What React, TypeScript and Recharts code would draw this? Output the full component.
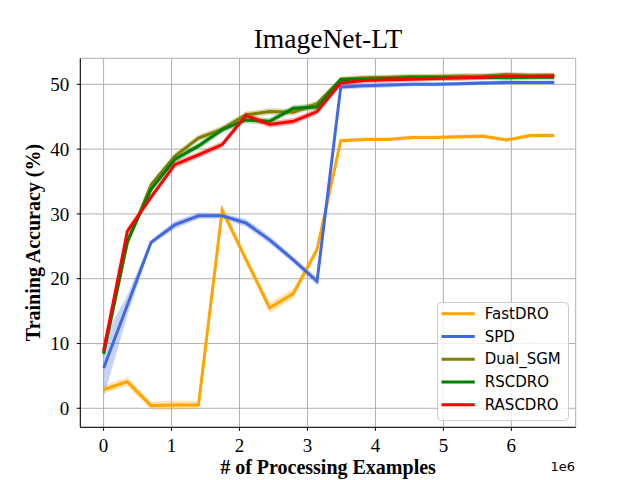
import { ComposedChart, Line, Area, XAxis, YAxis, CartesianGrid } from "recharts";

// processing examples, in units of 1e6
const steps = [
  0, 0.349, 0.698, 1.047, 1.396, 1.745, 2.094, 2.443, 2.792, 3.141,
  3.49, 3.839, 4.188, 4.537, 4.886, 5.235, 5.584, 5.933, 6.282, 6.631,
];

const fastDRO = [2.9, 4.1, 0.4, 0.5, 0.5, 30.6, 23.0, 15.5, 17.7, 24.5, 41.3, 41.5, 41.5, 41.8, 41.8, 41.9, 42.0, 41.4, 42.1, 42.1];
const spd = [6.2, 15.9, 25.6, 28.3, 29.7, 29.7, 28.6, 26.0, 22.9, 19.6, 49.6, 49.8, 49.9, 50.0, 50.0, 50.1, 50.2, 50.3, 50.3, 50.3];
const dualSGM = [8.5, 25.5, 34.5, 38.9, 41.7, 43.1, 45.3, 45.8, 45.7, 47.0, 50.8, 51.0, 51.1, 51.2, 51.2, 51.3, 51.3, 51.5, 51.4, 51.4];
const rscdro = [8.4, 25.8, 33.8, 38.4, 40.5, 43.0, 44.5, 44.3, 46.3, 46.5, 50.7, 50.8, 50.9, 51.0, 51.0, 51.0, 51.1, 51.0, 51.1, 51.1];
const rascdro = [8.9, 27.3, 32.6, 37.6, 39.1, 40.7, 45.2, 43.8, 44.3, 45.8, 50.2, 50.6, 50.7, 50.8, 50.9, 51.0, 51.1, 51.3, 51.2, 51.3];

// std of the shaded bands
const fastStd = [0.6, 0.7, 0.6, 0.7, 0.6, 0.8, 0.6, 0.8, 0.8, 0.6, 0.3, 0.3, 0.3, 0.3, 0.3, 0.3, 0.3, 0.3, 0.3, 0.3];
const spdStd = [4.5, 1.6, 0.4, 0.6, 0.5, 0.4, 0.6, 0.6, 0.5, 0.6, 0.4, 0.4, 0.4, 0.3, 0.3, 0.3, 0.3, 0.3, 0.3, 0.3];
const dualStd = [0.6, 0.6, 0.5, 0.5, 0.5, 0.5, 0.5, 0.5, 0.5, 0.5, 0.4, 0.4, 0.4, 0.4, 0.4, 0.4, 0.4, 0.4, 0.4, 0.4];
const rscStd = [0.6, 0.6, 0.5, 0.5, 0.5, 0.5, 0.5, 0.5, 0.5, 0.5, 0.4, 0.4, 0.4, 0.4, 0.4, 0.4, 0.4, 0.4, 0.4, 0.4];
const rascStd = [0.6, 0.6, 0.5, 0.5, 0.5, 0.5, 0.5, 0.5, 0.5, 0.5, 0.4, 0.4, 0.4, 0.4, 0.4, 0.4, 0.4, 0.4, 0.4, 0.4];

const xTicks = [0, 1, 2, 3, 4, 5, 6];
const yTicks = [0, 10, 20, 30, 40, 50];

const series = [
  { key: "fast", name: "FastDRO", color: "#FFA500", values: fastDRO, std: fastStd },
  { key: "spd", name: "SPD", color: "#4169E1", values: spd, std: spdStd },
  { key: "dual", name: "Dual_SGM", color: "#808000", values: dualSGM, std: dualStd },
  { key: "rsc", name: "RSCDRO", color: "#008000", values: rscdro, std: rscStd },
  { key: "rasc", name: "RASCDRO", color: "#FF0000", values: rascdro, std: rascStd },
];

const data = steps.map((x, i) => {
  const row: any = { x };
  series.forEach((s) => {
    row[s.key] = s.values[i];
    row[s.key + "Band"] = [s.values[i] - s.std[i], s.values[i] + s.std[i]];
  });
  return row;
});

const serif = "'Liberation Serif', 'Times New Roman', serif";
const sans = "'DejaVu Sans', sans-serif";

const Legend = () => (
  <svg
    width={132}
    height={119}
    style={{ position: "absolute", left: 436.5, top: 301.5 }}
  >
    <rect x={0.5} y={0.5} width={131} height={118} rx={4} fill="rgba(255,255,255,0.8)" stroke="#cccccc" />
    {series.map((s, i) => {
      const cy = 11.8 + i * 22.75;
      return (
        <g key={s.key}>
          <line x1={4.5} x2={37.8} y1={cy} y2={cy} stroke={s.color} strokeWidth={3} />
          <text x={47.8} y={cy} dominantBaseline="central" fontFamily={sans} fontSize={15} fill="#000">
            {s.name}
          </text>
        </g>
      );
    })}
  </svg>
);

export default function App() {
  return (
    <div style={{ position: "absolute", left: 0, top: 0, width: 640, height: 480, background: "#fff" }}>
      <ComposedChart
        width={640}
        height={480}
        data={data}
        margin={{ top: 58.3, right: 64.3, bottom: 22.7, left: 40.3 }}
      >
        <CartesianGrid stroke="#b0b0b0" strokeWidth={1} />
        <XAxis
          dataKey="x"
          type="number"
          domain={[-0.343, 6.947]}
          ticks={xTicks}
          allowDataOverflow
          height={30}
          tickSize={3.5}
          tickMargin={7.7}
          stroke="#000"
          tick={{ fill: "#000", fontFamily: serif, fontSize: 19 }}
          tickLine={{ stroke: "#000" }}
          axisLine={{ stroke: "#000" }}
        />
        <XAxis xAxisId="top" orientation="top" dataKey="x" type="number" domain={[-0.343, 6.947]} height={0} tick={false} tickLine={false} axisLine={{ stroke: "#000" }} />
        <YAxis
          type="number"
          domain={[-2.94, 54.02]}
          ticks={yTicks}
          allowDataOverflow
          width={40}
          tickSize={3.5}
          tickMargin={7.5}
          tick={{ fill: "#000", fontFamily: serif, fontSize: 19 }}
          tickLine={{ stroke: "#000" }}
          axisLine={{ stroke: "#000" }}
        />
        <YAxis yAxisId="right" orientation="right" domain={[-2.94, 54.02]} width={0} tick={false} tickLine={false} axisLine={{ stroke: "#000" }} />
        {series.map((s) => [
          <Area
            key={s.key + "Band"}
            type="linear"
            dataKey={s.key + "Band"}
            stroke="none"
            fill={s.color}
            fillOpacity={0.3}
            dot={false}
            activeDot={false}
            isAnimationActive={false}
          />,
          <Line
            key={s.key}
            type="linear"
            dataKey={s.key}
            stroke={s.color}
            strokeWidth={3}
            dot={false}
            activeDot={false}
            isAnimationActive={false}
          />,
        ])}
      </ComposedChart>
      <svg width={640} height={480} style={{ position: "absolute", left: 0, top: 0, pointerEvents: "none" }}>
        <text x={328} y={48} textAnchor="middle" fontFamily={serif} fontSize={27.5} fill="#000">
          ImageNet-LT
        </text>
        <text x={328} y={474} textAnchor="middle" fontFamily={serif} fontSize={20} fontWeight="bold" fill="#000">
          # of Processing Examples
        </text>
        <text
          x={40}
          y={242.5}
          textAnchor="middle"
          transform="rotate(-90 40 242.5)"
          fontFamily={serif}
          fontSize={20}
          fontWeight="bold"
          fill="#000"
        >
          Training Accuracy (%)
        </text>
        <text x={575} y={471} textAnchor="end" fontFamily={sans} fontSize={13} fill="#000">
          1e6
        </text>
      </svg>
      <Legend />
    </div>
  );
}
